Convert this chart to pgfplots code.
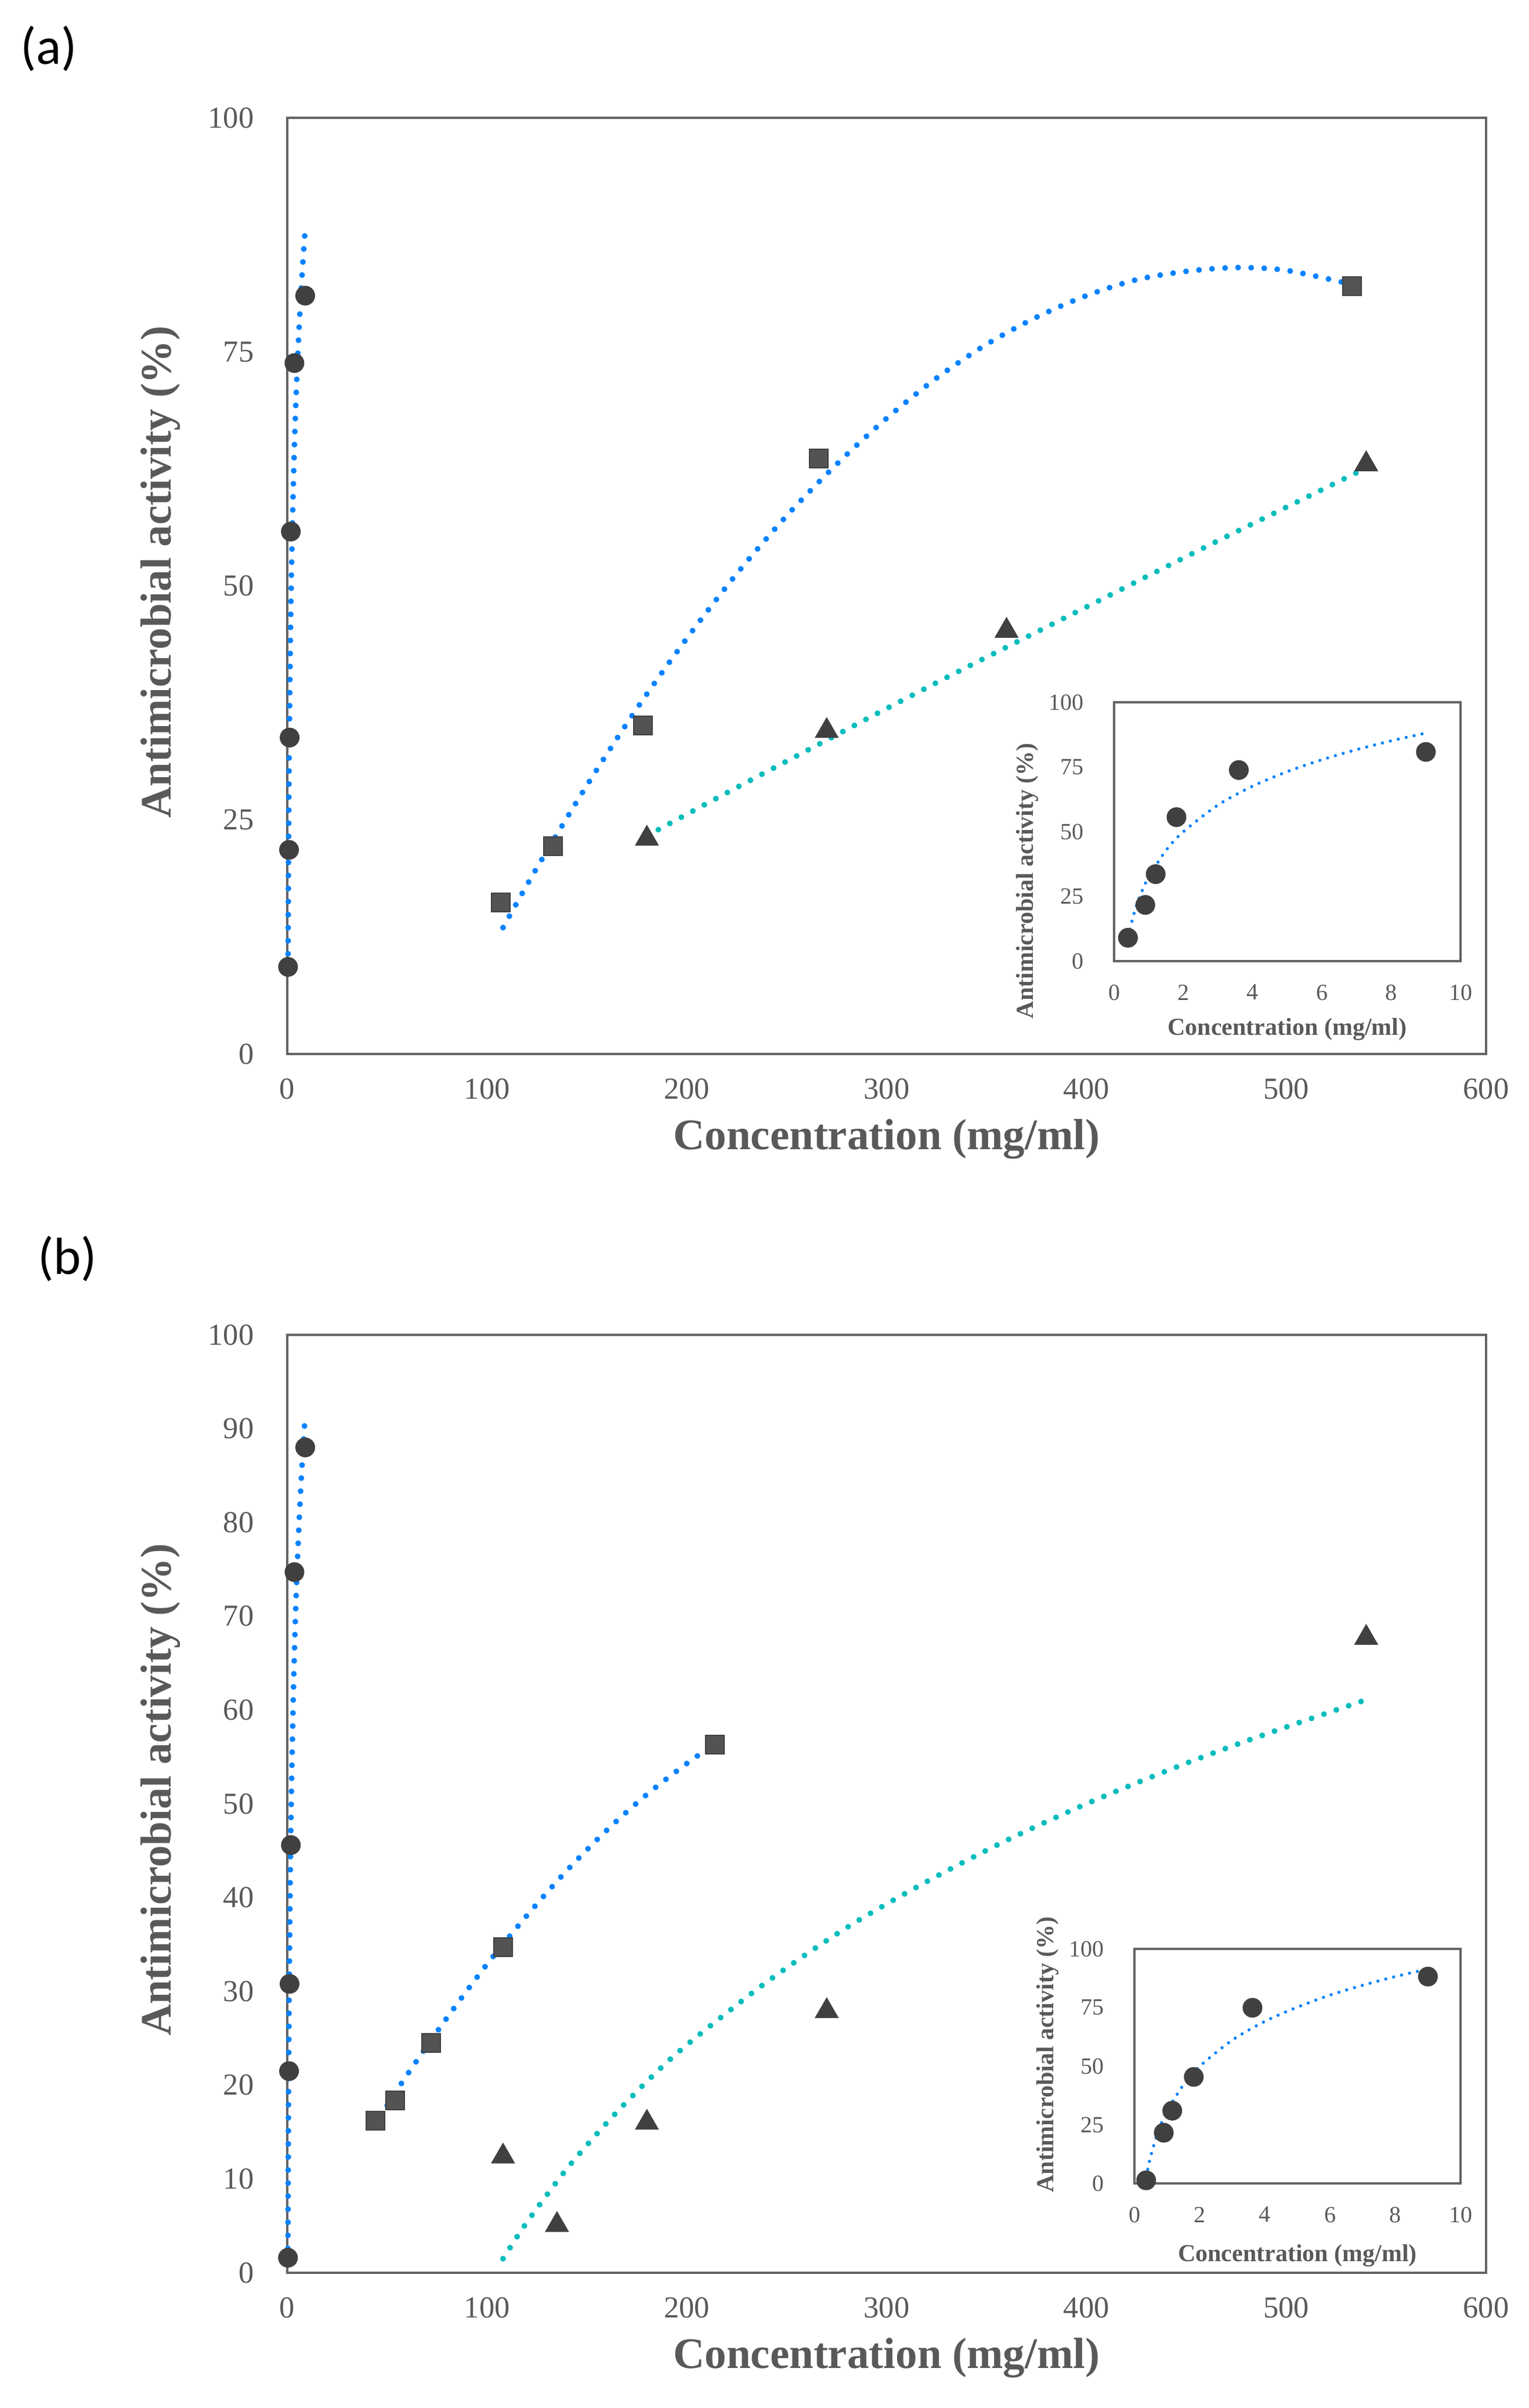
\documentclass[border=0pt]{standalone}
\usepackage{fontspec}
\setmainfont{Liberation Serif}
\newfontfamily\panelfont{Carlito}
\usepackage{pgfplots}
\pgfplotsset{compat=1.18}

\definecolor{txt}{RGB}{89,89,89}
\definecolor{frame}{RGB}{100,100,100}
\definecolor{mk}{RGB}{64,64,64}
\definecolor{trblue}{RGB}{5,130,255}
\definecolor{trteal}{RGB}{0,188,188}

\pgfplotsset{
  common/.style={
    scale only axis, anchor=south west, clip=false,
    axis line style={frame, line width=0.8pt},
    major tick length=0pt,
    /pgf/number format/assume math mode=true,
    xlabel={Concentration (mg/ml)},
    ylabel={Antimicrobial activity (\%)},
  },
  mainax/.style={
    common, width=413.2pt,
    xmin=0, xmax=600, ymin=0, ymax=100, xtick={0,100,...,600},
    tick label style={font=\fontsize{10.5}{12}\selectfont, text=txt},
    xticklabel style={yshift=-5pt},
    yticklabel style={xshift=-8pt},
    label style={font=\fontsize{15}{17}\selectfont\bfseries, text=txt},
    xlabel style={at={([yshift=-29.4pt]axis description cs:0.5,0)}, anchor=center},
    ylabel style={at={([xshift=-43.6pt]axis description cs:0,0.515)}, anchor=center},
  },
  insetax/.style={
    common, axis background/.style={fill=white},
    xmin=0, xmax=10, ymin=0, ymax=100, xtick={0,2,...,10}, ytick={0,25,...,100},
    tick label style={font=\fontsize{8}{9}\selectfont, text=txt},
    xticklabel style={yshift=-4.6pt},
    yticklabel style={xshift=-7pt},
    label style={font=\fontsize{8.4}{10}\selectfont\bfseries, text=txt},
  },
  circ/.style={only marks, mark=*, mark size=3.2pt, mark options={fill=mk, draw=mk}},
  sqr/.style={only marks, mark=square*, mark size=3.2pt, mark options={fill=mk!90!white, draw=mk}},
  tri/.style={only marks, mark=triangle*, mark size=4.4pt, mark options={fill=mk, draw=mk}},
  trend/.style={no marks, smooth, line width=2.0pt, line cap=round, dash pattern=on 0pt off 4.5pt},
  trendsmall/.style={no marks, smooth, line width=1.1pt, line cap=round, dash pattern=on 0pt off 2.8pt, trblue},
}

\begin{document}
\begin{tikzpicture}
\path[use as bounding box] (0,0) rectangle (527pt,829.8pt);

\node[font=\panelfont\fontsize{18}{20}\selectfont] at (16.8pt,813pt) {(a)};
\node[font=\panelfont\fontsize{18}{20}\selectfont] at (23.2pt,396pt) {(b)};

% ---- panel (a)
\begin{axis}[mainax, at={(99pt,466.6pt)}, height=322.6pt, ytick={0,25,...,100}]
\addplot[circ] coordinates {(0.4,9.3) (0.9,21.8) (1.2,33.8) (1.8,55.8) (3.6,73.8) (9.0,81.0)};
\addplot[sqr] coordinates {(107,16.2) (133,22.2) (178,35.1) (266,63.6) (533,82.0)};
\addplot[tri] coordinates {(180,23.0) (270,34.5) (360,45.2) (540,63.0)};
% trendlines
\addplot[trend, trblue] coordinates {(0.4,9.3) (0.6,19.6) (0.8,26.9) (1.0,32.5) (1.5,42.8) (2,50.0) (3,60.3) (4,67.6) (5,73.2) (6,77.8) (7,81.7) (8,85.1) (8.9,87.8)};
\addplot[trend, trblue] coordinates {(108,13.5) (125,19.9) (150,28.7) (175,36.9) (200,44.4) (225,51.3) (250,57.5) (275,63.0) (300,67.9) (325,72.2) (350,75.8) (375,78.7) (400,81.0) (425,82.7) (450,83.6) (475,84.0) (500,83.7) (533,82.2)};
\addplot[trend, trteal] coordinates {(180,23.3) (220,27.9) (260,32.4) (300,36.9) (340,41.3) (380,45.6) (420,49.9) (460,54.2) (500,58.4) (540,62.6)};
\end{axis}

\begin{axis}[insetax, at={(384pt,498.6pt)}, width=119.4pt, height=89.2pt,
  xlabel style={at={([yshift=-23.6pt]axis description cs:0.5,0)}, anchor=center},
  ylabel style={at={([xshift=-30pt]axis description cs:0,0.31)}, anchor=center}]
\addplot[circ] coordinates {(0.4,9.0) (0.9,21.7) (1.2,33.6) (1.8,55.6) (3.6,73.8) (9.0,80.8)};
\addplot[trendsmall] coordinates {(0.4,9.3) (0.6,19.6) (0.8,26.9) (1.0,32.5) (1.5,42.8) (2,50.0) (3,60.3) (4,67.6) (5,73.2) (6,77.8) (7,81.7) (8,85.1) (8.9,87.8)};
\end{axis}

% ---- panel (b)
\begin{axis}[mainax, at={(99pt,46.6pt)}, height=323.2pt, ytick={0,10,...,100}]
\addplot[circ] coordinates {(0.36,1.6) (0.9,21.5) (1.16,30.8) (1.82,45.6) (3.62,74.7) (9.0,88.0)};
\addplot[sqr] coordinates {(44,16.2) (54,18.4) (72,24.5) (108,34.7) (214,56.3)};
\addplot[tri] coordinates {(108,12.4) (135,5.1) (180,16.0) (270,27.9) (540,67.7)};
% trendlines
\addplot[trend, trblue] coordinates {(0.36,2.6) (0.5,11.7) (0.75,22.9) (1,30.8) (1.5,42.0) (2,49.9) (3,61.1) (4,69.1) (5,75.2) (6,80.3) (7,84.5) (8,88.2) (8.87,91.0)};
\addplot[trend, trblue] coordinates {(43,15.5) (60,21.1) (80,27.2) (100,32.9) (120,38.1) (140,42.9) (160,47.2) (180,51.0) (200,54.3) (214,56.4)};
\addplot[trend, trteal] coordinates {(108,1.5) (120,5.4) (140,11.1) (160,16.0) (180,20.4) (200,24.3) (240,31.0) (280,36.8) (320,41.7) (360,46.1) (400,50.0) (440,53.5) (480,56.7) (540,61.1)};
\end{axis}

\begin{axis}[insetax, at={(391pt,77.4pt)}, width=112.4pt, height=80.8pt,
  xlabel style={at={([yshift=-25pt]axis description cs:0.5,0)}, anchor=center},
  ylabel style={at={([xshift=-30pt]axis description cs:0,0.55)}, anchor=center}]
\addplot[circ] coordinates {(0.36,1.3) (0.9,21.6) (1.16,31.0) (1.82,45.4) (3.62,74.9) (9.0,88.2)};
\addplot[trendsmall] coordinates {(0.36,2.6) (0.5,11.7) (0.75,22.9) (1,30.8) (1.5,42.0) (2,49.9) (3,61.1) (4,69.1) (5,75.2) (6,80.3) (7,84.5) (8,88.2) (8.87,91.0)};
\end{axis}
\end{tikzpicture}
\end{document}
